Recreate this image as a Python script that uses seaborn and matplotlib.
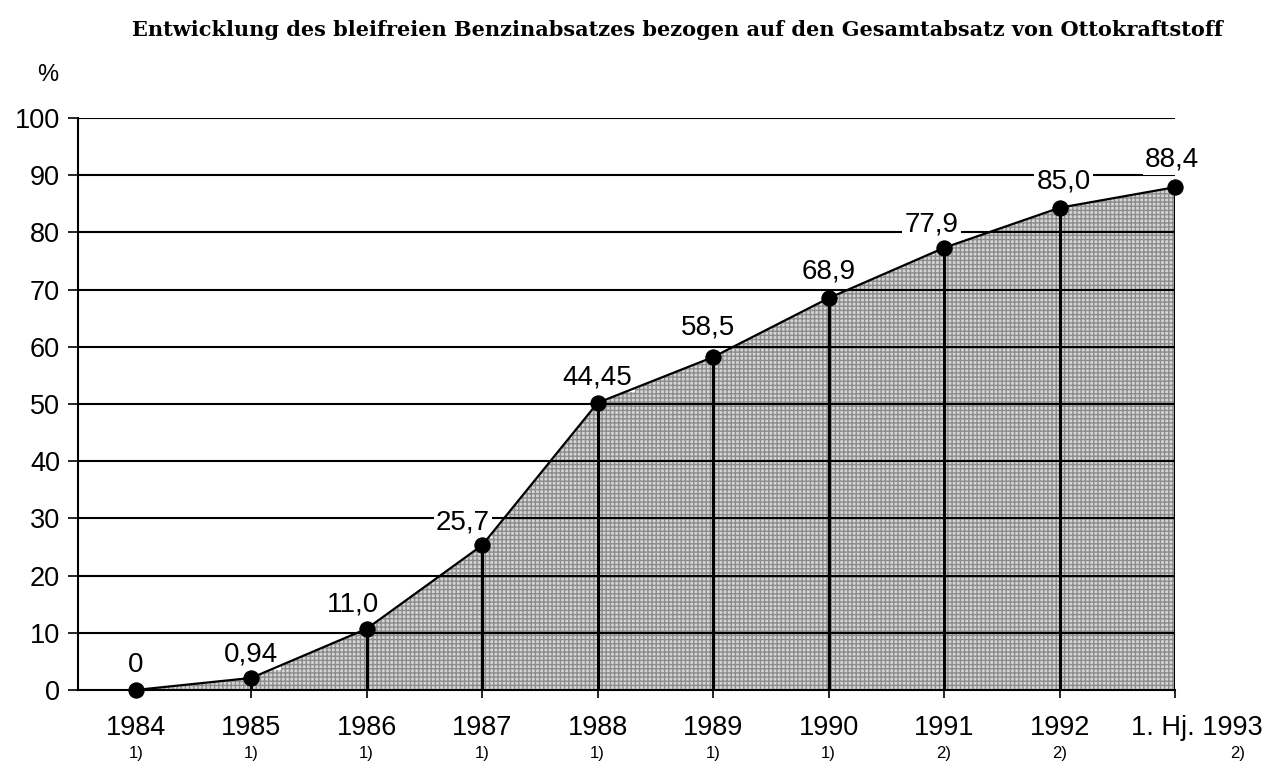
import numpy as np
import pandas as pd
import seaborn as sns
import matplotlib
matplotlib.use("Agg")
import matplotlib.pyplot as plt

years = ["1984", "1985", "1986", "1987", "1988", "1989", "1990", "1991", "1992", "1. Hj. 1993"]
footnotes = ["1)", "1)", "1)", "1)", "1)", "1)", "1)", "2)", "2)", "2)"]
# plotted heights
share = [0.0, 2.1, 10.7, 25.3, 50.2, 58.2, 68.5, 77.3, 84.3, 87.9]
# printed value labels
value_labels = ["0", "0,94", "11,0", "25,7", "44,45", "58,5", "68,9", "77,9", "85,0", "88,4"]

# label offsets in points (layout only)
label_offsets = [(0, 13), (0, 11.5), (-10, 12.5), (-14, 11), (0, 13.5),
                 (-4, 16), (0, 14.5), (-9, 11.5), (3, 14), (-2, 15)]

sns.set_style("white")
plt.rcParams["font.family"] = ["Liberation Sans", "DejaVu Sans"]
plt.rcParams["text.color"] = "black"
plt.rcParams["xtick.color"] = "black"
plt.rcParams["ytick.color"] = "black"

df = pd.DataFrame({"idx": np.arange(len(years)), "share": share})

fig = plt.figure(figsize=(12.68, 7.68), dpi=100)
ax = fig.add_axes([0.0615, 0.1016, 0.8652, 0.7448])

# stippled area under the curve
ax.fill_between(df["idx"], 0, df["share"], facecolor="#d6d6d6", edgecolor="#8c8c8c",
                hatch="++++", linewidth=0, zorder=1)

# horizontal grid lines
for yv in range(10, 101, 10):
    ax.axhline(yv, color="black", lw=1.5, zorder=2)

# vertical drop lines
ax.vlines(df["idx"], 0, df["share"], color="black", lw=2.2, zorder=3)

sns.lineplot(data=df, x="idx", y="share", color="black", lw=1.6, marker="o",
             markersize=11, markeredgecolor="black", ax=ax, zorder=4, clip_on=False)

for i, (lab, off) in enumerate(zip(value_labels, label_offsets)):
    ax.annotate(lab, (i, share[i]), xytext=off, textcoords="offset points",
                ha="center", va="baseline", fontsize=20, zorder=2.5,
                bbox=dict(boxstyle="square,pad=0.08", fc="white", ec="none"))

ax.set_xlim(-0.5, 9)
ax.set_ylim(0, 100)
ax.set_yticks(range(0, 101, 10))
ax.set_yticklabels([str(v) for v in range(0, 101, 10)], fontsize=19.5)
ax.set_xticks(df["idx"])
ax.set_xticklabels([""] * len(years))
ax.tick_params(axis="y", length=7, width=1.2, pad=6, left=True)
ax.tick_params(axis="x", length=6, width=1.2, bottom=True)
ax.set_xlabel("")
ax.set_ylabel("")

for s in ["top", "right"]:
    ax.spines[s].set_visible(False)
for s in ["left", "bottom"]:
    ax.spines[s].set_color("black")
    ax.spines[s].set_linewidth(1.5)

# year labels and footnotes
for i, (yr, fn) in enumerate(zip(years, footnotes)):
    last = i == len(years) - 1
    ax.annotate(yr, (i, 0), xytext=(16 if last else 0, -18), textcoords="offset points",
                ha="center", va="top", fontsize=19.5, annotation_clip=False)
    ax.annotate(fn, (i, 0), xytext=(45 if last else 0, -40),
                textcoords="offset points", ha="center", va="top", fontsize=12,
                annotation_clip=False)

fig.text(0.029, 0.902, "%", fontsize=17, ha="left", va="center")
fig.text(0.534, 0.961, "Entwicklung des bleifreien Benzinabsatzes bezogen auf den Gesamtabsatz von Ottokraftstoff",
         fontsize=15, fontweight="bold", family=["DejaVu Serif"],
         ha="center", va="center")

fig.savefig("out.png", dpi=100, facecolor="white")
